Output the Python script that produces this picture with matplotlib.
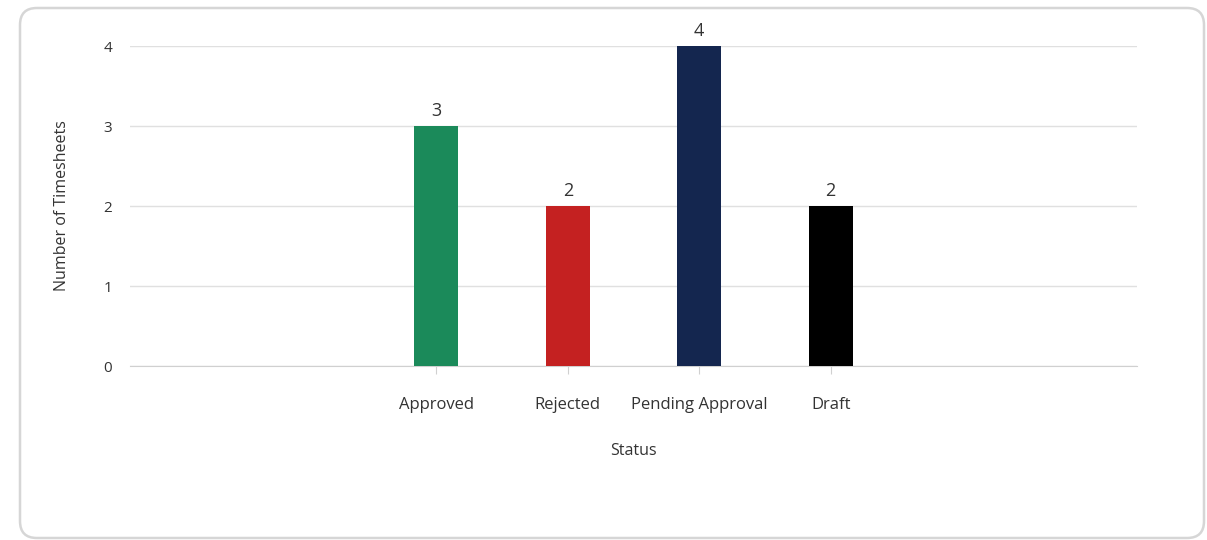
import matplotlib
matplotlib.use("Agg")
import matplotlib.pyplot as plt
from matplotlib.patches import FancyBboxPatch

plt.rcParams["font.family"] = ["Open Sans", "DejaVu Sans"]

statuses = ["Approved", "Rejected", "Pending Approval", "Draft"]
counts = [3, 2, 4, 2]
colors = ["#1b8a5a", "#c42121", "#14264f", "#000000"]

W, H = 1207, 540
fig = plt.figure(figsize=(W / 100, H / 100), dpi=100)

# card background with rounded border (behind the axes)
card = FancyBboxPatch((20 / W, 2 / H), (1184 / W), (530 / H),
                      boxstyle="round,pad=0,rounding_size=0.014",
                      transform=fig.transFigure, facecolor="white",
                      edgecolor="#d6d6d6", linewidth=1.8,
                      mutation_aspect=W / H, zorder=-10)
fig.patches.append(card)

ax = fig.add_axes([130 / W, 1 - 366 / H, (1137 - 130) / W, (366 - 46) / H])
ax.set_zorder(1)
ax.set_facecolor("none")
x = range(len(statuses))
bars = ax.bar(x, counts, width=0.335, color=colors, zorder=3)
for b, v in zip(bars, counts):
    ax.text(b.get_x() + b.get_width() / 2, v + 0.08, str(v), ha="center", va="bottom",
            fontsize=13, color="#333333", clip_on=False)

ax.set_xlim(-2.33, 5.33)
ax.set_ylim(0, 4)
ax.set_yticks([0, 1, 2, 3, 4])
ax.set_xticks(list(x))
ax.set_xticklabels(statuses)
ax.grid(True, axis="y", color="#e0e0e0", linewidth=1)
ax.set_axisbelow(True)
for s in ["top", "right", "left"]:
    ax.spines[s].set_visible(False)
ax.spines["bottom"].set_color("#d0d0d0")
ax.tick_params(axis="y", length=0, pad=13, labelsize=11, labelcolor="#333333")
ax.tick_params(axis="x", length=6, color="#d0d0d0", pad=16, labelsize=12, labelcolor="#333333")
ax.set_xlabel("Status", fontsize=11.5, color="#333333", labelpad=22)
ax.set_ylabel("Number of Timesheets", fontsize=11.5, color="#333333", labelpad=24)

fig.savefig("out.png", dpi=100)
